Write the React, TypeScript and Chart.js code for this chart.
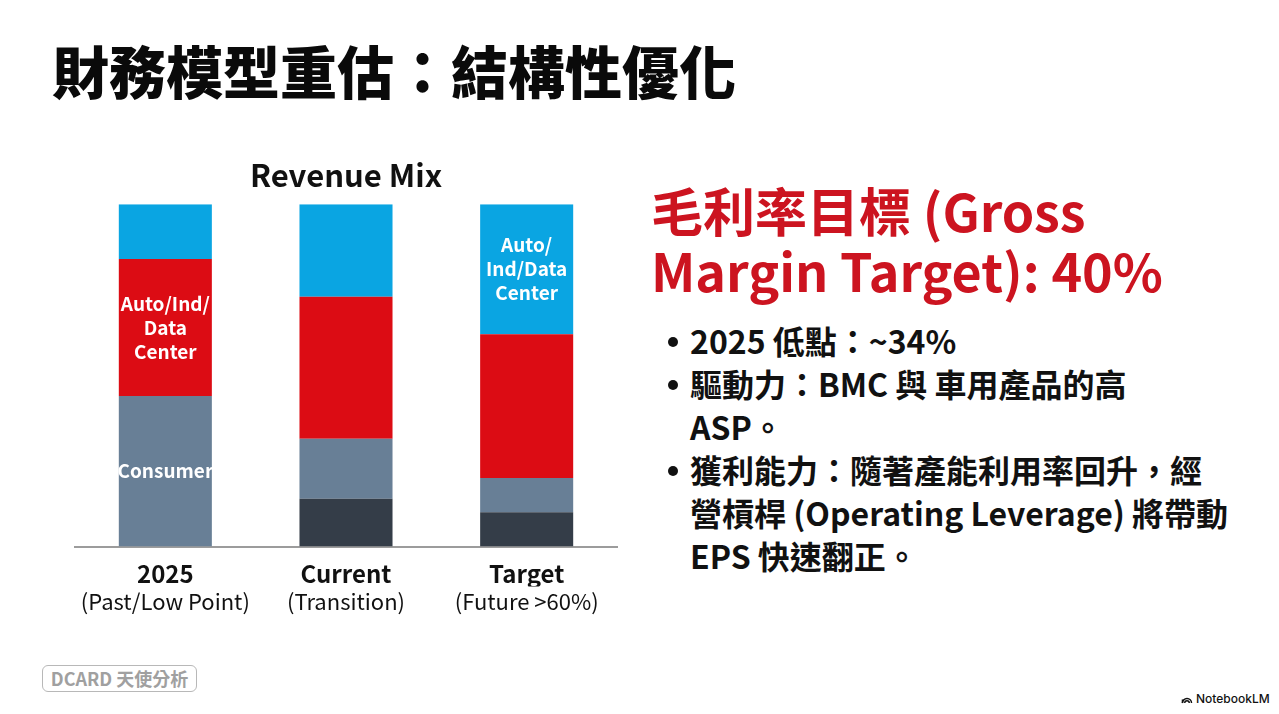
import React, { useEffect, useRef } from "react";
import { Chart, registerables } from "chart.js";

Chart.register(...registerables);

// Revenue mix per period, shares in percent (bottom segment first)
const categories = ["2025", "Current", "Target"];
const categoryNotes = ["(Past/Low Point)", "(Transition)", "(Future >60%)"];
const legacyShare = [0, 14, 10];
const consumerShare = [44, 17.5, 10];
const autoIndShare = [40, 41.5, 42];
const dataCenterShare = [16, 27, 38];

// In-bar segment captions
const consumerCaptions = ["Consumer", "", ""];
const autoIndCaptions = ["Auto/Ind/\nData\nCenter", "", ""];
const dataCenterCaptions = ["", "", "Auto/\nInd/Data\nCenter"];

const FONT = "'Noto Sans CJK TC', 'Noto Sans', sans-serif";

const segmentCaptionPlugin = {
  id: "segmentCaptions",
  afterDatasetsDraw(chart: any) {
    const ctx = chart.ctx;
    chart.data.datasets.forEach((ds: any, i: number) => {
      const captions: string[] | undefined = ds.captions;
      if (!captions) return;
      const meta = chart.getDatasetMeta(i);
      meta.data.forEach((bar: any, j: number) => {
        const text = captions[j];
        if (!text) return;
        const { x, y, base } = bar.getProps(["x", "y", "base"], true);
        const cy = (y + base) / 2;
        const lines = text.split("\n");
        const lh = 24;
        ctx.save();
        ctx.fillStyle = "#ffffff";
        ctx.font = `600 19px ${FONT}`;
        ctx.textAlign = "center";
        ctx.textBaseline = "middle";
        lines.forEach((ln, k) => {
          ctx.fillText(ln, x, cy + (k - (lines.length - 1) / 2) * lh);
        });
        ctx.restore();
      });
    });
  },
};

function RevenueMixChart() {
  const canvasRef = useRef<HTMLCanvasElement | null>(null);

  useEffect(() => {
    if (!canvasRef.current) return;
    const barPct = 0.515;
    const chart = new Chart(canvasRef.current, {
      type: "bar",
      data: {
        labels: categories,
        datasets: [
          { label: "Legacy", data: legacyShare, backgroundColor: "#343d48", barPercentage: barPct, categoryPercentage: 1 },
          { label: "Consumer", data: consumerShare, backgroundColor: "#687f96", barPercentage: barPct, categoryPercentage: 1, captions: consumerCaptions } as any,
          { label: "Auto/Ind", data: autoIndShare, backgroundColor: "#dc0c14", barPercentage: barPct, categoryPercentage: 1, captions: autoIndCaptions } as any,
          { label: "Data Center", data: dataCenterShare, backgroundColor: "#0aa5e2", barPercentage: barPct, categoryPercentage: 1, captions: dataCenterCaptions } as any,
        ],
      },
      options: {
        animation: false,
        responsive: true,
        maintainAspectRatio: false,
        layout: { padding: { left: 35, right: 43, top: 0, bottom: 13 } },
        plugins: {
          legend: { display: false },
          tooltip: { enabled: false },
          title: {
            display: true,
            text: "Revenue Mix",
            color: "#111111",
            font: { family: FONT, size: 31, weight: "bold" },
            padding: { top: 7, bottom: 10 },
          },
        },
        scales: {
          x: {
            stacked: true,
            grid: { display: false, drawTicks: false, tickLength: 0 },
            border: { display: true, color: "#9c9c9c", width: 2 },
            ticks: {
              color: "#111111",
              font: { family: FONT, size: 24, weight: "bold" },
              padding: 13,
            },
            afterFit(scale: any) {
              scale.height = 40;
            },
          },
          x2: {
            type: "category",
            position: "bottom",
            labels: categoryNotes,
            offset: true,
            grid: { display: false, drawTicks: false, tickLength: 0 },
            border: { display: false },
            ticks: {
              color: "#111111",
              font: { family: FONT, size: 22 },
              padding: 2,
            },
          },
          y: {
            stacked: true,
            display: false,
            min: 0,
            max: 100,
          },
        },
      },
      plugins: [segmentCaptionPlugin],
    });
    return () => chart.destroy();
  }, []);

  return (
    <div style={{ position: "absolute", left: 40, top: 150, width: 620, height: 480 }}>
      <canvas ref={canvasRef} />
    </div>
  );
}

const bulletLine: React.CSSProperties = {
  position: "relative",
  paddingLeft: 18,
};

const bulletDot: React.CSSProperties = {
  position: "absolute",
  left: -4,
  top: 18,
  width: 10,
  height: 10,
  borderRadius: 5,
  background: "#111111",
};

export default function App() {
  useEffect(() => {
    document.body.style.margin = "0";
  }, []);

  return (
    <div
      style={{
        position: "absolute",
        left: 0,
        top: 0,
        width: 1279,
        height: 714,
        background: "#ffffff",
        overflow: "hidden",
        fontFamily: FONT,
      }}
    >
      <div
        style={{
          position: "absolute",
          left: 52,
          top: 36,
          fontSize: 57,
          lineHeight: "66px",
          fontWeight: 900,
          color: "#0a0a0a",
          whiteSpace: "nowrap",
        }}
      >
        財務模型重估：結構性優化
      </div>

      <RevenueMixChart />

      <div
        style={{
          position: "absolute",
          left: 651,
          top: 180,
          fontSize: 52,
          lineHeight: "60px",
          fontWeight: 700,
          color: "#cc1420",
          whiteSpace: "nowrap",
        }}
      >
        毛利率目標 (Gross
        <br />
        Margin Target): 40%
      </div>

      <div
        style={{
          position: "absolute",
          left: 672,
          top: 319,
          fontSize: 32,
          lineHeight: "43px",
          fontWeight: 700,
          color: "#111111",
          whiteSpace: "nowrap",
        }}
      >
        <div style={bulletLine}>
          <span style={bulletDot} />
          2025 低點：~34%
        </div>
        <div style={bulletLine}>
          <span style={bulletDot} />
          驅動力：BMC 與 車用產品的高
          <br />
          ASP。
        </div>
        <div style={bulletLine}>
          <span style={bulletDot} />
          獲利能力：隨著產能利用率回升，經
          <br />
          營槓桿 (Operating Leverage) 將帶動
          <br />
          EPS 快速翻正。
        </div>
      </div>

      <div
        style={{
          position: "absolute",
          left: 42,
          top: 665,
          width: 153,
          height: 25,
          border: "1.5px solid #b8b8b8",
          borderRadius: 6,
          color: "#a0a0a0",
          fontSize: 18,
          fontWeight: 600,
          lineHeight: "25px",
          textAlign: "center",
          whiteSpace: "nowrap",
        }}
      >
        DCARD 天使分析
      </div>

      <div
        style={{
          position: "absolute",
          left: 1181,
          top: 691,
          display: "flex",
          alignItems: "center",
          gap: 3,
          fontFamily: "Inter, 'Noto Sans', sans-serif",
          fontSize: 12,
          fontWeight: 500,
          color: "#111111",
          whiteSpace: "nowrap",
        }}
      >
        <svg width="12" height="10" viewBox="0 0 13 11">
          <path d="M1.5 10 A5 5 0 0 1 11.5 10" fill="none" stroke="#111" strokeWidth="1.6" />
          <path d="M4 10 A2.5 2.5 0 0 1 9 10" fill="none" stroke="#111" strokeWidth="1.6" />
          <path d="M1.5 10 L1.5 6" fill="none" stroke="#111" strokeWidth="1.6" />
        </svg>
        NotebookLM
      </div>
    </div>
  );
}
